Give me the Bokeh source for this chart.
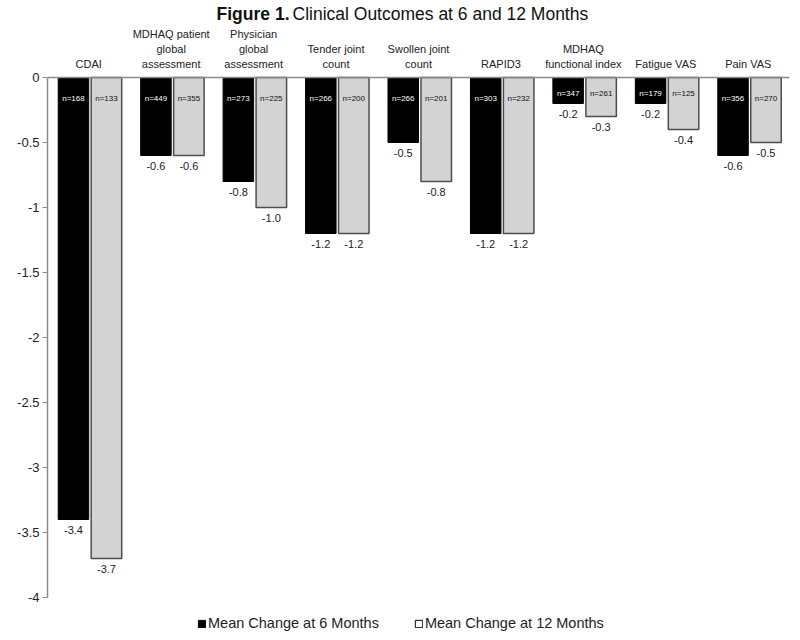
from bokeh.plotting import figure
from bokeh.models import (ColumnDataSource, Range1d, FixedTicker, Span,
                          Legend, LegendItem)
from bokeh.embed import file_html
from bokeh.resources import INLINE
from bokeh.core.properties import value

# ---------------- data ----------------
categories = ["CDAI", "MDHAQ patient\nglobal\nassessment", "Physician\nglobal\nassessment",
              "Tender joint\ncount", "Swollen joint\ncount", "RAPID3",
              "MDHAQ\nfunctional index", "Fatigue VAS", "Pain VAS"]
mean_6 = [-3.4, -0.6, -0.8, -1.2, -0.5, -1.2, -0.2, -0.2, -0.6]
mean_12 = [-3.7, -0.6, -1.0, -1.2, -0.8, -1.2, -0.3, -0.4, -0.5]
n_6 = [168, 449, 273, 266, 266, 303, 347, 179, 356]
n_12 = [133, 355, 225, 200, 201, 232, 261, 125, 270]
y_ticks = [0, -0.5, -1, -1.5, -2, -2.5, -3, -3.5, -4]
y_tick_labels = ["0", "-0.5", "-1", "-1.5", "-2", "-2.5", "-3", "-3.5", "-4"]
series_names = ["Mean Change at 6 Months", "Mean Change at 12 Months"]
title_bold = "Figure 1."
title_rest = "Clinical Outcomes at 6 and 12 Months"

# ---------------- layout constants (pixels) ----------------
W, H = 792, 632
PX_LEFT, PX_RIGHT = 47, 789
PX_ZERO = 77
PX_PER_UNIT = 130.0
FONT = value("Liberation Sans")
N = len(categories)
px_per_cat = (PX_RIGHT - PX_LEFT) / N


def dx(px):          # pixel x -> data x
    return (px - PX_LEFT) / px_per_cat


def dy(px):          # pixel y -> data y
    return (PX_ZERO - px) / PX_PER_UNIT


OFF6, OFF12, BW = -0.185, 0.215, 0.37

centers = [i + 0.5 for i in range(N)]
x6 = [c + OFF6 for c in centers]
x12 = [c + OFF12 for c in centers]


def n_label_y(v):
    return -0.12 if v > -0.45 else -0.16


src = ColumnDataSource(dict(
    x6=x6, x12=x12, m6=mean_6, m12=mean_12,
    n6=[f"n={n}" for n in n_6], n12=[f"n={n}" for n in n_12],
    lab6=[f"{v:.1f}" for v in mean_6], lab12=[f"{v:.1f}" for v in mean_12],
    ly6=[v - 6 / PX_PER_UNIT for v in mean_6], ly12=[v - 6 / PX_PER_UNIT for v in mean_12],
    ny6=[n_label_y(v) for v in mean_6], ny12=[n_label_y(v) for v in mean_12],
))

p = figure(width=W, height=H,
           x_range=Range1d(0, N),
           y_range=Range1d(-(H - PX_ZERO) / PX_PER_UNIT, PX_ZERO / PX_PER_UNIT),
           output_backend="svg", toolbar_location=None, title=None,
           x_axis_location=None,
           min_border_left=PX_LEFT, min_border_right=W - PX_RIGHT,
           min_border_top=0, min_border_bottom=0)
p.outline_line_color = None
p.xgrid.grid_line_color = None
p.ygrid.grid_line_color = None
p.background_fill_color = "white"
p.border_fill_color = "white"

# y axis
ya = p.yaxis[0]
ya.ticker = FixedTicker(ticks=y_ticks)
ya.major_label_overrides = {t: lab for t, lab in zip(y_ticks, y_tick_labels)}
ya.bounds = (-4, 0)
ya.axis_line_color = "#8a8a8a"
ya.axis_line_width = 1.5
ya.major_tick_line_color = "#8a8a8a"
ya.major_tick_line_width = 1.2
ya.major_tick_out = 5
ya.major_tick_in = 0
ya.minor_tick_line_color = None
ya.major_label_text_font = "Liberation Sans"
ya.major_label_text_font_size = "13px"
ya.major_label_text_color = "#222222"
ya.major_label_standoff = 3

# zero line (category axis line)
p.add_layout(Span(location=0, dimension="width", line_color="#8a8a8a", line_width=1.5))

# bars
p.vbar(x="x6", top="m6", bottom=0, width=BW,
       fill_color="black", line_color="black", line_width=1, source=src)
p.vbar(x="x12", top="m12", bottom=0, width=BW,
       fill_color="#d3d3d3", line_color="#4d4d4d", line_width=1.5, source=src)

# value labels
for xc, yc, lab in (("x6", "ly6", "lab6"), ("x12", "ly12", "lab12")):
    p.text(x=xc, y=yc, text=lab, source=src,
           text_align="center", text_baseline="top", text_font=FONT,
           text_font_size="11px", text_color="#222222")

# n labels
p.text(x="x6", y="ny6", text="n6", source=src,
       text_align="center", text_baseline="middle", text_font=FONT,
       text_font_size="8px", text_color="white")
p.text(x="x12", y="ny12", text="n12", source=src,
       text_align="center", text_baseline="middle", text_font=FONT,
       text_font_size="8px", text_color="#111111")

# category labels (above the zero line)
cat_src = ColumnDataSource(dict(x=centers, y=[dy(69)] * N, text=categories))
p.text(x="x", y="y", text="text", source=cat_src,
       text_align="center", text_baseline="bottom", text_font=FONT,
       text_font_size="11px", text_line_height=1.25, text_color="#222222")

# title
p.text(x=[dx(289)], y=[dy(13)], text=[title_bold], text_align="right",
       text_baseline="alphabetic", text_font=FONT, text_font_style="bold",
       text_font_size="17.5px", text_color="#111111")
p.text(x=[dx(292)], y=[dy(13)], text=[title_rest], text_align="left",
       text_baseline="alphabetic", text_font=FONT,
       text_font_size="17.5px", text_color="#111111")

# legend (hidden single-NaN renderers supply the swatches)
nan = float("nan")
dummy = ColumnDataSource(dict(x=[nan], top=[nan]))
d6 = p.vbar(x="x", top="top", width=0.3, source=dummy, fill_color="black", line_color="black")
d12 = p.vbar(x="x", top="top", width=0.3, source=dummy, fill_color="white",
             line_color="#333333", line_width=1.2)
legend = Legend(items=[LegendItem(label=series_names[0], renderers=[d6]),
                       LegendItem(label=series_names[1], renderers=[d12])],
                location=(150, 1), orientation="horizontal",
                border_line_color=None, background_fill_alpha=0,
                padding=0, margin=0, spacing=35, label_standoff=2,
                glyph_width=9, glyph_height=9, label_height=14,
                label_text_font="Liberation Sans", label_text_font_size="14.5px",
                label_text_color="#222222")
p.add_layout(legend)

open("out.html", "w").write(file_html(p, INLINE))
